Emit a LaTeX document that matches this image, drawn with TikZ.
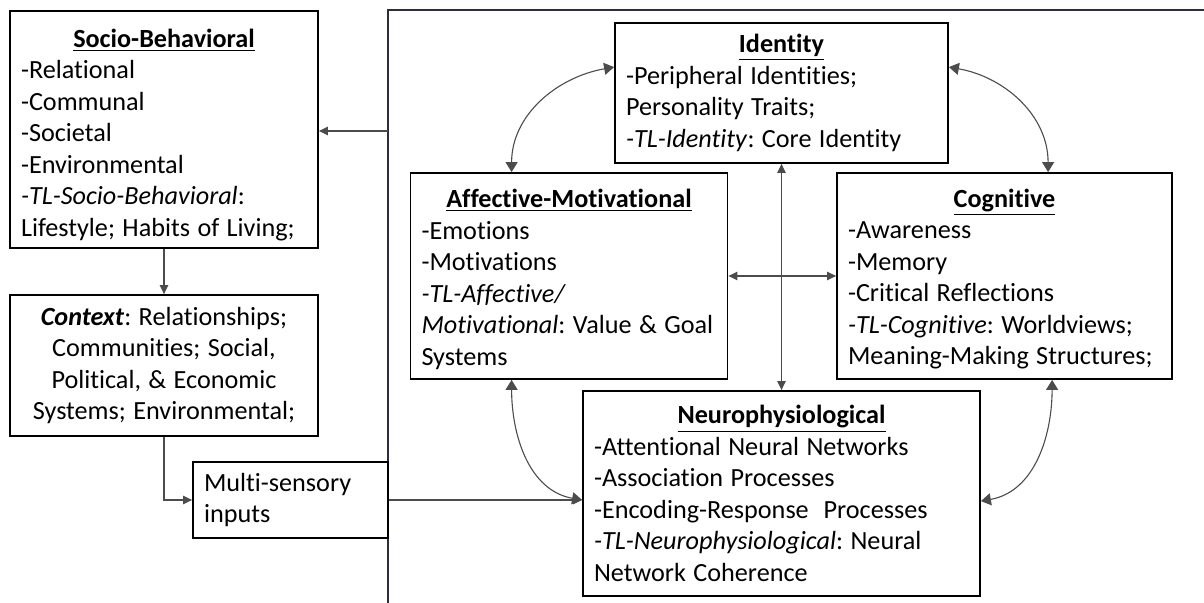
\documentclass[tikz,border=0pt]{standalone}
\usepackage{fontspec}
\setmainfont{Carlito}[Ligatures=NoCommon, WordSpace=1.25]
\usetikzlibrary{arrows.meta,calc}
\frenchspacing

\begin{document}
\begin{tikzpicture}[x=0.5pt,y=0.5pt,
  box/.style={draw=black, line width=0.9pt, rectangle, inner xsep=5.5pt, inner ysep=0pt,
              font=\fontsize{13.1}{15.75}\selectfont},
  listbox/.style={box, align=flush left},
  conn/.style={draw=black!70, line width=0.55pt},
  frameline/.style={draw={rgb,255:red,45;green,45;blue,65}, line width=0.8pt},
  smalltip/.style={-{Triangle[length=4.5pt,width=4.2pt]}},
  smalltips/.style={{Triangle[length=4.5pt,width=4.2pt]}-{Triangle[length=4.5pt,width=4.2pt]}},
  bigtips/.style={{Triangle[length=5pt,width=6pt]}-{Triangle[length=5pt,width=6pt]}}]

\useasboundingbox (0,0) rectangle (1204,603);

% enclosing frame of the individual
\draw[frameline] (388,0) -- (388,593) -- (1204,593);

% outer boxes
\node[listbox, minimum width=154pt, minimum height=118.5pt, text width=143pt] (socio) at (164,473.5)
  {\rule{0pt}{14.5pt}\makebox[\linewidth]{\textbf{\underline{Socio-Behavioral}}}\\
   -Relational\\ -Communal\\ -Societal\\ -Environmental\\
   \textit{-TL-Socio-Behavioral}:\\ Lifestyle; Habits of Living;};

\node[box, align=flush center, minimum width=154pt, minimum height=70.5pt, text width=143pt] (context) at (164,237.5)
  {\textbf{\textit{Context}}: Relationships;\\ Communities; Social,\\ Political, \& Economic\\ Systems; Environmental;};

\node[listbox, minimum width=97.5pt, minimum height=38pt, text width=86.5pt] (multi) at (290.5,103)
  {Multi-sensory\\ inputs};

% inner domains
\node[listbox, minimum width=166.5pt, minimum height=70pt, text width=155.5pt] (identity) at (781.5,510)
  {\makebox[\linewidth]{\textbf{\underline{Identity}}}\\
   -Peripheral Identities;\\ Personality Traits;\\ \textit{-TL-Identity}: Core Identity};

\node[listbox, minimum width=158pt, minimum height=103pt, text width=147.5pt] (affective) at (569,327)
  {\rule{0pt}{12.5pt}\makebox[\linewidth]{\textbf{\underline{Affective-Motivational}}}\\
   -Emotions\\ -Motivations\\ \textit{-TL-Affective/}\\ \textit{Motivational}: Value \& Goal\\ Systems};

\node[listbox, minimum width=167.5pt, minimum height=103pt, text width=156.5pt] (cognitive) at (1004.5,327)
  {\rule{0pt}{12.5pt}\makebox[\linewidth]{\textbf{\underline{Cognitive}}}\\
   -Awareness\\ -Memory\\ -Critical Reflections\\ \textit{-TL-Cognitive}: Worldviews;\\ Meaning-Making Structures;};

\node[listbox, minimum width=198.5pt, minimum height=102.5pt, text width=187.5pt] (neuro) at (781.5,109.5)
  {\makebox[\linewidth]{\textbf{\underline{Neurophysiological}}}\\
   -Attentional Neural Networks\\ -Association Processes\\ -Encoding-Response\ \ Processes\\
   \textit{-TL-Neurophysiological}: Neural\\ Network Coherence};

% straight connectors
\coordinate (tap) at (388,472);
\coordinate (nin) at (multi.east -| neuro.west);
\draw[conn, smalltip] (tap) -- (tap -| socio.east);
\draw[conn, smalltip] (socio.south) -- (context.north);
\draw[conn, smalltip] (context.south) |- (multi.west);
\draw[conn, smalltip] (multi.east) -- (nin);
\draw[conn, smalltips] (identity.south) -- (neuro.north);
\draw[conn, smalltips] (affective.east) -- (cognitive.west);

% curved two-way links
\draw[conn, bigtips] ($(affective.north west)+(102,0)$) to[out=90,in=190] ($(identity.north west)+(0,-45)$);
\draw[conn, bigtips] ($(identity.north east)+(0,-45)$) to[out=-10,in=90] ($(cognitive.north west)+(212,0)$);
\draw[conn, bigtips] ($(affective.south west)+(102,0)$) to[out=-90,in=170] (nin);
\draw[conn, bigtips] ($(cognitive.south west)+(216,0)$) to[out=-90,in=10] ($(neuro.north east)+(0,-111)$);

\end{tikzpicture}
\end{document}
